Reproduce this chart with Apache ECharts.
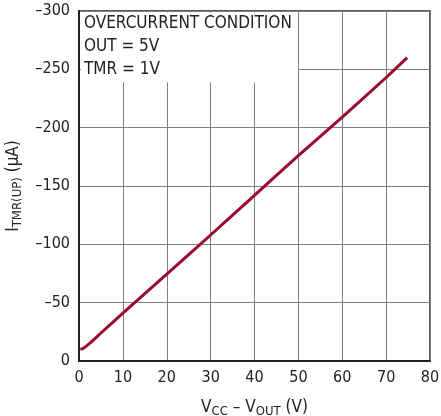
<!DOCTYPE html>
<html><head><meta charset="utf-8">
<script src="https://cdn.jsdelivr.net/npm/echarts@6/dist/echarts.min.js"></script>
<style>html,body{margin:0;padding:0;background:#fff}#c{width:441px;height:416px}</style>
</head><body><div id="c"></div>
<script>
const vDiff = [0.3, 1, 2, 3, 5, 10, 20, 30, 40, 50, 60, 70, 74.8];
const iTmrUp = [-10, -11, -13.8, -17, -24, -41, -74.5, -108, -142, -176, -209, -243, -260];
const xTicks = [0, 10, 20, 30, 40, 50, 60, 70, 80];
const yTicks = [0, -50, -100, -150, -200, -250, -300];
const noteLines = ['OVERCURRENT CONDITION', 'OUT = 5V', 'TMR = 1V'];

const FONT = '"DejaVu Sans Condensed", "Liberation Sans Narrow", sans-serif';
const chart = echarts.init(document.getElementById('c'));
const fmt = v => String(v).replace('-', '\u2013');
chart.setOption({
  animation: false,
  grid: { left: 79, right: 11, top: 11, bottom: 55, show: true, borderColor: '#222', borderWidth: 1.5, z: 0,
          containLabel: false, outerBoundsMode: 'none' },
  xAxis: {
    type: 'value', min: xTicks[0], max: xTicks[xTicks.length - 1], interval: 10,
    axisLine: { show: true, onZero: false, lineStyle: { color: '#222', width: 2 } },
    axisTick: { show: false },
    splitLine: { show: true, lineStyle: { color: '#808080', width: 1 } },
    axisLabel: { fontFamily: FONT, fontSize: 16, color: '#222', margin: 9, formatter: fmt },
    name: '{n|V}{s|CC}{n| \u2013 V}{s|OUT}{n| (V)}', nameLocation: 'middle', nameGap: 36,
    nameTextStyle: { rich: {
      n: { fontFamily: FONT, fontSize: 17, color: '#222' },
      s: { fontFamily: FONT, fontSize: 13, color: '#222', verticalAlign: 'bottom', padding: [8, 0, 0, 0] }
    } }
  },
  yAxis: {
    type: 'value', min: yTicks[yTicks.length - 1], max: yTicks[0], interval: 50, inverse: true,
    axisLine: { show: true, onZero: false, lineStyle: { color: '#222', width: 2 } },
    axisTick: { show: false },
    splitLine: { show: true, lineStyle: { color: '#808080', width: 1 } },
    axisLabel: { fontFamily: FONT, fontSize: 16, color: '#222', margin: 9, formatter: fmt },
    name: '{n|I}{s|TMR(UP)}{n| (\u00b5A)}', nameLocation: 'middle', nameGap: 50, nameRotate: 90,
    nameTextStyle: { rich: {
      n: { fontFamily: FONT, fontSize: 17, color: '#222' },
      s: { fontFamily: FONT, fontSize: 13, color: '#222', verticalAlign: 'bottom', padding: [8, 0, 0, 0] }
    } }
  },
  graphic: [
    { type: 'rect', z: 5, shape: { x: 81, y: 12.5, width: 217, height: 70 }, style: { fill: '#fff' } },
    ...noteLines.map((t, i) => ({
      type: 'text', z: 6, left: 84, top: 15 + i * 23,
      style: { text: t, fontFamily: FONT, fontSize: 17, fill: '#222' }
    }))
  ],
  series: [{
    type: 'line', z: 10, data: vDiff.map((x, i) => [x, iTmrUp[i]]),
    showSymbol: false, smooth: 0.3, lineStyle: { color: '#9b0a2e', width: 3 }
  }]
});
</script></body></html>
